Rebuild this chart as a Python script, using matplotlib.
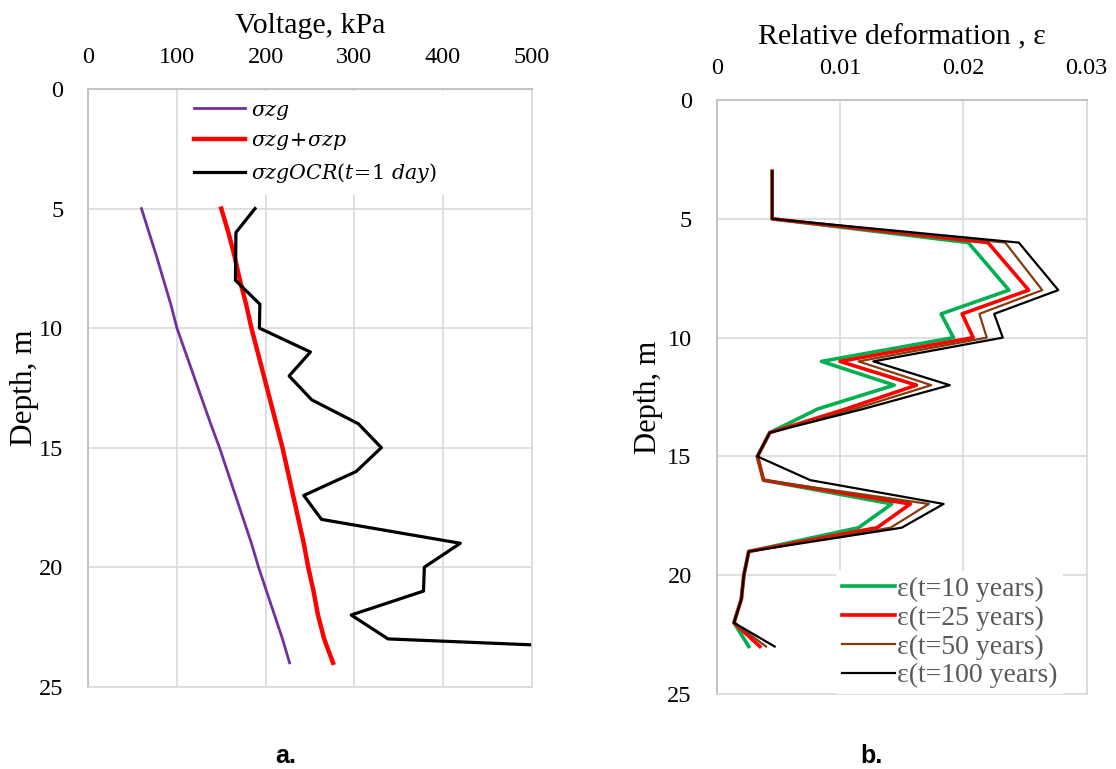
import matplotlib.pyplot as plt

# Derinlikler ve gerilmeler (sol grafik)
depth_a = [5, 6, 7, 8, 9, 10, 11, 12, 13, 14, 15, 16, 17, 18, 19, 20, 21, 22, 23, 24]
sigma_zg = [60, 68.5, 77, 85, 93, 100, 109.5, 119, 128.5, 138, 148, 157, 166, 175, 184, 192, 201, 210, 219, 227]
sigma_zg_zp = [150, 158, 165, 171, 178, 184, 191, 198, 205, 212, 219, 225, 231, 237, 243, 248, 254, 259, 266, 276]

depth_ocr = [5, 6, 8, 9, 10, 11, 12, 13, 14, 15, 16, 17, 18, 19, 20, 21, 22, 23, 24]
sigma_ocr = [188, 166.5, 166, 193.5, 193, 250.5, 226.5, 252, 304.5, 330.5, 302, 243, 263, 419.5, 379, 378, 296.5, 338, 990]

# Relatif deformasyon (sag grafik)
depth_b = [3, 5, 6, 8, 9, 10, 11, 12, 13, 14, 15, 16, 17, 18, 19, 20, 21, 22, 23]
eps_10 = [0.0045, 0.0045, 0.0204, 0.0237, 0.0182, 0.0192, 0.0085, 0.0144, 0.0082, 0.0043, 0.0033,
          0.0038, 0.0142, 0.0115, 0.0026, 0.0022, 0.0020, 0.0014, 0.0026]
eps_25 = [0.0045, 0.0045, 0.0220, 0.0253, 0.0199, 0.0208, 0.0100, 0.0162, 0.0105, 0.0043, 0.0033,
          0.0038, 0.0157, 0.0130, 0.0026, 0.0022, 0.0020, 0.0014, 0.0035]
eps_50 = [0.0045, 0.0045, 0.0234, 0.0264, 0.0213, 0.0219, 0.0115, 0.0174, 0.0112, 0.0043, 0.0033,
          0.0038, 0.0172, 0.0141, 0.0026, 0.0022, 0.0020, 0.0014, 0.0040]
eps_100 = [0.0045, 0.0045, 0.0245, 0.0277, 0.0225, 0.0232, 0.0127, 0.0189, 0.0119, 0.0043, 0.0033,
           0.0076, 0.0184, 0.0150, 0.0026, 0.0022, 0.0020, 0.0014, 0.0047]

x_ticks_a = [0, 100, 200, 300, 400, 500]
x_ticks_b = [0, 0.01, 0.02, 0.03]
x_labels_b = ['0', '0.01', '0.02', '0.03']
y_ticks = [0, 5, 10, 15, 20, 25]

plt.rcParams['font.family'] = ['Liberation Serif', 'DejaVu Serif']
plt.rcParams['mathtext.fontset'] = 'dejavuserif'

fig = plt.figure(figsize=(11.16, 7.69), dpi=100)
ax1 = fig.add_axes([0.0791, 0.107, 0.3973, 0.7772])
ax2 = fig.add_axes([0.6422, 0.0975, 0.3315, 0.7724])


def style_axis(ax):
    # Ust eksen, ters derinlik, gri izgara
    ax.xaxis.tick_top()
    ax.xaxis.set_label_position('top')
    ax.set_ylim(25, 0)
    ax.set_yticks(y_ticks)
    ax.tick_params(length=0, labelsize=17.5)
    ax.tick_params(axis='x', pad=15)
    ax.tick_params(axis='y', pad=18)
    ax.grid(True, color='#D9D9D9', linewidth=1.2)
    ax.set_axisbelow(True)
    for side in ['left', 'top']:
        ax.spines[side].set_color('#BFBFBF')
        ax.spines[side].set_linewidth(1.3)
    for side in ['right', 'bottom']:
        ax.spines[side].set_color('#D9D9D9')
        ax.spines[side].set_linewidth(1.2)


# a. Gerilme - derinlik
style_axis(ax1)
ax1.plot(sigma_zg, depth_a, color='#7030A0', linewidth=2.0, label=r'$\sigma zg$')
ax1.plot(sigma_zg_zp, depth_a, color='#FF0000', linewidth=3.2, label=r'$\sigma zg\!+\!\sigma zp$')
ax1.plot(sigma_ocr, depth_ocr, color='black', linewidth=2.3, label=r'$\sigma zgOCR(t\!=\!1\ day)$')
ax1.set_xlim(0, 500)
ax1.set_xticks(x_ticks_a)
ax1.set_xlabel('Voltage, kPa', fontsize=21.5, labelpad=10)
ax1.set_ylabel('Depth, m', fontsize=22.5, labelpad=0)
leg1 = ax1.legend(loc='upper left', bbox_to_anchor=(0.215, 0.997), frameon=True, fancybox=False,
                  edgecolor='none', framealpha=1, fontsize=14.8, handlelength=2.5,
                  handletextpad=0.3, labelspacing=0.45, borderpad=0.5, borderaxespad=0)

# b. Relatif deformasyon - derinlik
style_axis(ax2)
ax2.plot(eps_10, depth_b, color='#00B050', linewidth=2.6, label='ε(t=10 years)')
ax2.plot(eps_25, depth_b, color='#FF0000', linewidth=2.6, label='ε(t=25 years)')
ax2.plot(eps_50, depth_b, color='#843C0C', linewidth=1.6, label='ε(t=50 years)')
ax2.plot(eps_100, depth_b, color='black', linewidth=1.6, label='ε(t=100 years)')
ax2.set_xlim(0, 0.03)
ax2.set_xticks(x_ticks_b)
ax2.set_xticklabels(x_labels_b)
ax2.set_xlabel('Relative deformation , ε', fontsize=21.5, labelpad=10)
ax2.set_ylabel('Depth, m', fontsize=22, labelpad=3)
leg2 = ax2.legend(loc='lower right', bbox_to_anchor=(0.937, 0.0), frameon=True, fancybox=False,
                  edgecolor='none', framealpha=1, fontsize=20, handlelength=1.9,
                  handletextpad=0.1, labelspacing=0.12, borderpad=0.2, borderaxespad=0)
for txt in leg2.get_texts():
    txt.set_color('#595959')

fig.text(0.2464, 0.008, 'a.', fontsize=18, fontweight='bold', family='Liberation Sans')
fig.text(0.7706, 0.008, 'b.', fontsize=18, fontweight='bold', family='Liberation Sans')

fig.savefig('out.png', dpi=100)
